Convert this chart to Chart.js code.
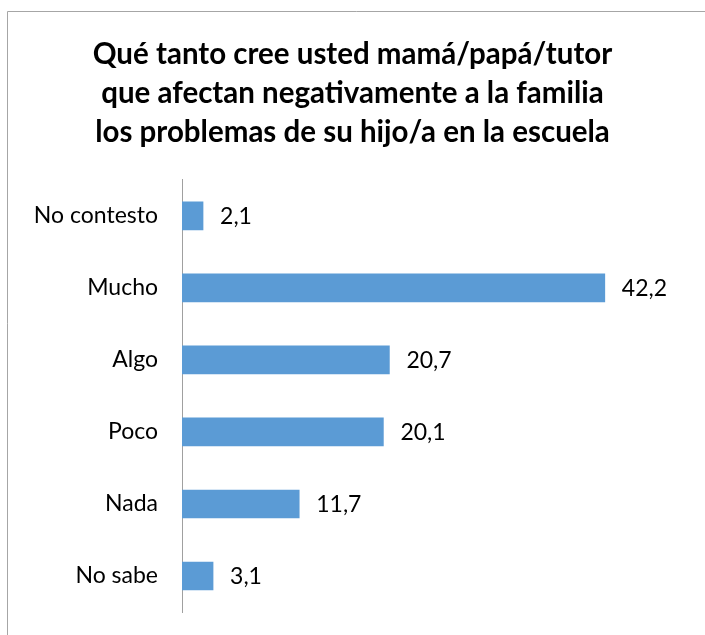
<!DOCTYPE html>
<html>
<head>
<meta charset="utf-8">
<script src="https://cdn.jsdelivr.net/npm/chart.js@4"></script>
<style>
  html, body { margin: 0; padding: 0; background: #fff; }
  #wrap { position: relative; width: 705px; height: 635px; }
</style>
</head>
<body>
<div id="wrap"><canvas id="chart" width="705" height="635"></canvas></div>
<script>
const categories = ["No contesto", "Mucho", "Algo", "Poco", "Nada", "No sabe"];
const values = [2.1, 42.2, 20.7, 20.1, 11.7, 3.1];
const valueLabels = ["2,1", "42,2", "20,7", "20,1", "11,7", "3,1"];
const titleLines = [
  "Qué tanto cree usted mamá/papá/tutor",
  "que afectan negativamente a la familia",
  "los problemas de su hijo/a en la escuela"
];

const FONT = "Lato, 'Open Sans', sans-serif";

// frame line of the chart box (only top and left show in the picture)
const framePlugin = {
  id: "frame",
  beforeDraw(chart) {
    const ctx = chart.ctx;
    ctx.save();
    ctx.strokeStyle = "#a6a6a6";
    ctx.lineWidth = 1;
    ctx.beginPath();
    ctx.moveTo(7.5, chart.height);
    ctx.lineTo(7.5, 11.5);
    ctx.lineTo(chart.width, 11.5);
    ctx.stroke();
    ctx.restore();
  }
};

// value labels to the right of each bar
const valueLabelPlugin = {
  id: "valueLabels",
  afterDatasetsDraw(chart) {
    const ctx = chart.ctx;
    const meta = chart.getDatasetMeta(0);
    ctx.save();
    ctx.fillStyle = "#000";
    ctx.font = "23px " + FONT;
    ctx.textAlign = "left";
    ctx.textBaseline = "middle";
    meta.data.forEach((bar, i) => {
      ctx.fillText(valueLabels[i], bar.x + 17, bar.y + 1);
    });
    ctx.restore();
  }
};

const ctx = document.getElementById("chart").getContext("2d");
new Chart(ctx, {
  type: "bar",
  data: {
    labels: categories,
    datasets: [
      {
        data: values,
        backgroundColor: "#5b9bd5",
        borderWidth: 0,
        barThickness: 28,
      },
    ],
  },
  options: {
    indexAxis: "y",
    responsive: false,
    animation: false,
    layout: {
      padding: { left: 0, right: 0, top: 0, bottom: 23 },
    },
    plugins: {
      legend: { display: false },
      tooltip: { enabled: false },
      title: {
        display: true,
        text: titleLines,
        color: "#000",
        font: { family: FONT, size: 29.5, weight: "bold", lineHeight: 1.32 },
        padding: { top: 35, bottom: 28 },
      },
    },
    scales: {
      x: {
        display: false,
        min: 0,
        max: 52.2,
      },
      y: {
        afterFit(scale) {
          scale.width = 182;
          // tick padding is only meant to push labels left, not shrink the plot
          scale.paddingTop = 0;
          scale.paddingBottom = 0;
        },
        grid: { display: false, drawTicks: false },
        border: { display: true, color: "#a0a0a0", width: 1 },
        ticks: {
          color: "#000",
          padding: 24,
          font: { family: FONT, size: 23 },
        },
      },
    },
  },
  plugins: [framePlugin, valueLabelPlugin],
});
</script>
</body>
</html>
